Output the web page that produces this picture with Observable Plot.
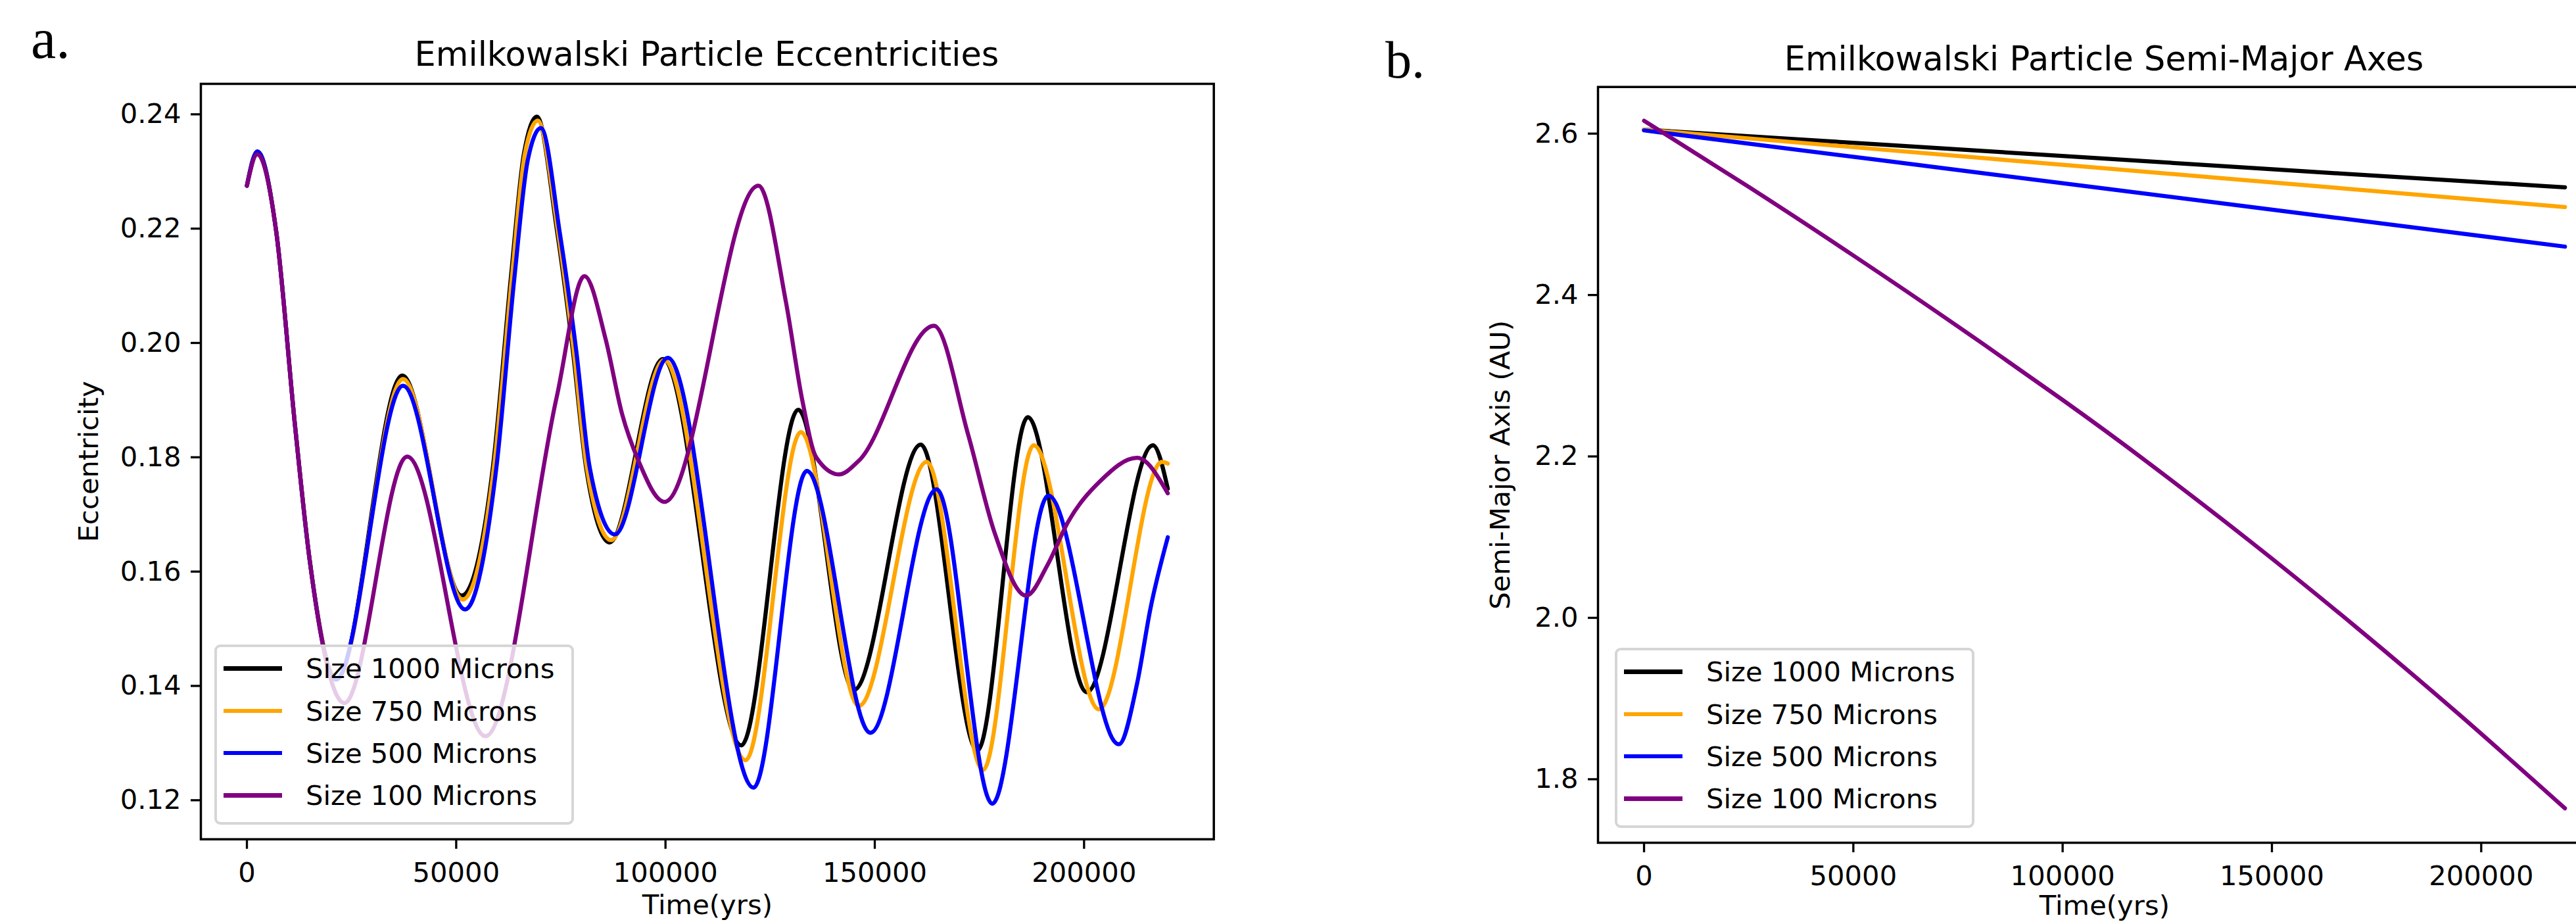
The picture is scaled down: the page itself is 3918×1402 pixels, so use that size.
<!DOCTYPE html>
<html>
<head>
<meta charset="utf-8">
<script src="https://cdn.jsdelivr.net/npm/d3@7"></script>
<script src="https://cdn.jsdelivr.net/npm/@observablehq/plot@0.6"></script>
<style>
  html, body { margin: 0; padding: 0; background: #fff; overflow: hidden; width: 3918px; height: 1402px; }
  #root { position: relative; width: 3918px; height: 1402px; overflow: hidden; font-family: "DejaVu Sans", sans-serif; color: #000; }
  .panel { position: absolute; top: 0; height: 1402px; }
  .head { position: relative; height: 110px; }
  .title { position: absolute; font-size: 51px; line-height: 51px; white-space: nowrap; transform: translateX(-50%); }
  .tag { position: absolute; font-family: "Liberation Serif", "Times New Roman", serif; white-space: nowrap; }
  .panel svg { display: block; }
  .legend { position: absolute; box-sizing: border-box; width: 547px; height: 274px; background: rgba(255,255,255,0.8); border: 4px solid #d6d6d6; border-radius: 9px; z-index: 2; }
  .sw { position: absolute; left: 10px; width: 89px; height: 6.25px; }
  .lt { position: absolute; left: 135px; font-size: 41.7px; line-height: 41.7px; white-space: nowrap; }
</style>
</head>
<body>
<div id="root"></div>
<script>
// ---------- shared ----------
const xTicks = [0, 50000, 100000, 150000, 200000];
const seriesNames = ["Size 1000 Microns", "Size 750 Microns", "Size 500 Microns", "Size 100 Microns"];
const seriesColors = ["black", "orange", "blue", "purple"];

// ---------- panel a: eccentricity ----------
const eccTicks = [0.12, 0.14, 0.16, 0.18, 0.20, 0.22, 0.24];

const eccT1000 = [0, 2500, 7000, 11500, 15000, 21500, 37130, 51340, 58760, 63060, 66180, 69310, 73990, 77900, 81030, 86650, 99400, 118100, 131710, 145000, 160990, 174510, 186540, 200630, 216460, 220000];
const ecc1000  = [0.2275, 0.2335, 0.2195, 0.1855, 0.1620, 0.1413, 0.1943, 0.1558, 0.1782, 0.2114, 0.2331, 0.2396, 0.2201, 0.1985, 0.1782, 0.1651, 0.1972, 0.1296, 0.1883, 0.1393, 0.1822, 0.1287, 0.1870, 0.1389, 0.1821, 0.1745];

const eccT750 = [0, 2500, 7000, 11500, 15000, 21500, 37300, 51600, 59000, 63300, 66400, 69500, 74200, 78100, 81200, 87000, 99700, 119130, 132340, 146190, 162420, 175860, 187970, 203550, 218600, 220000];
const ecc750  = [0.2275, 0.2335, 0.2195, 0.1855, 0.1620, 0.1412, 0.1937, 0.1551, 0.1782, 0.2114, 0.2331, 0.2389, 0.2201, 0.1985, 0.1782, 0.1655, 0.1970, 0.1270, 0.1844, 0.1365, 0.1792, 0.1253, 0.1821, 0.1359, 0.1792, 0.1789];

const eccT500 = [0, 2500, 7000, 11500, 15000, 21300, 37300, 52120, 59600, 63900, 67100, 70250, 74800, 78700, 81900, 87900, 100560, 121030, 133770, 148960, 164790, 178080, 191460, 208300, 212660, 215820, 220000];
const ecc500  = [0.2275, 0.2335, 0.2195, 0.1855, 0.1620, 0.1411, 0.1925, 0.1534, 0.1782, 0.2114, 0.2320, 0.2376, 0.2190, 0.1985, 0.1782, 0.1665, 0.1974, 0.1222, 0.1776, 0.1318, 0.1744, 0.1194, 0.1733, 0.1298, 0.1404, 0.1534, 0.1660];

const eccT100 = [0, 2500, 7000, 11500, 15000, 23300, 38290, 57000, 74000, 80640, 85720, 89620, 93530, 99780, 122210, 128790, 132730, 136000, 141440, 146190, 164150, 172290, 178620, 186150, 191300, 196040, 203950, 212660, 220000];
const ecc100  = [0.2275, 0.2330, 0.2195, 0.1855, 0.1620, 0.1370, 0.1801, 0.1312, 0.1905, 0.2117, 0.2006, 0.1876, 0.1794, 0.1722, 0.2275, 0.2071, 0.1898, 0.1800, 0.1770, 0.1794, 0.2030, 0.1840, 0.1668, 0.1558, 0.1612, 0.1685, 0.1759, 0.1799, 0.1737];

// ---------- panel b: semi-major axis ----------
const smaTicks = [1.8, 2.0, 2.2, 2.4, 2.6];
const smaT = [0, 55000, 110000, 165000, 220000];
const sma1000 = [2.605, 2.587, 2.569, 2.551, 2.5335];
const sma750  = [2.605, 2.581, 2.557, 2.533, 2.509];
const sma500  = [2.604, 2.568, 2.532, 2.496, 2.460];
const smaT100 = [0, 25000, 50000, 75000, 100000, 120000, 145000, 170000, 195000, 220000];
const sma100  = [2.616, 2.534, 2.449, 2.361, 2.270, 2.194, 2.094, 1.989, 1.879, 1.764];

const rows = (T, V) => d3.zip(T, V).map(([t, v]) => ({t, v}));

function makePlot(cfg) {
  return Plot.plot({
    width: cfg.width,
    height: cfg.height,
    marginLeft: cfg.marginLeft,
    marginRight: cfg.marginRight,
    marginTop: cfg.marginTop,
    marginBottom: cfg.marginBottom,
    style: {fontFamily: "DejaVu Sans", fontSize: "41.7px", background: "transparent", overflow: "visible", color: "black"},
    x: {domain: [-11000, 231000]},
    y: {domain: cfg.yDomain},
    marks: [
      ...cfg.series.map((s, i) => Plot.line(s, {x: "t", y: "v", stroke: seriesColors[i], strokeWidth: 6.25, curve: cfg.curve})),
      Plot.frame({stroke: "black", strokeWidth: 3.5}),
      Plot.axisX({ticks: xTicks, tickFormat: d3.format("d"), tickSize: 15, tickPadding: 20, strokeWidth: 3.3,
        label: "Time(yrs)", labelAnchor: "center", labelOffset: cfg.xLabelOffset, labelArrow: "none", fontSize: 41.7}),
      Plot.axisY({ticks: cfg.yTicks, tickFormat: d3.format(cfg.yFormat), tickSize: 15, tickPadding: 15, strokeWidth: 3.3,
        label: cfg.yLabel, labelAnchor: "center", labelOffset: cfg.yLabelOffset, labelArrow: "none", fontSize: 41.7})
    ]
  });
}

function makeLegend(left, top) {
  const lg = document.createElement("div");
  lg.className = "legend";
  lg.style.left = left + "px";
  lg.style.top = top + "px";
  seriesNames.forEach((name, i) => {
    const c = 32.5 + i * 64.3;
    const sw = document.createElement("div");
    sw.className = "sw";
    sw.style.top = (c - 3.1) + "px";
    sw.style.background = seriesColors[i];
    const tx = document.createElement("div");
    tx.className = "lt";
    tx.style.top = (c + 15 - 35.3) + "px";
    tx.textContent = name;
    lg.appendChild(sw);
    lg.appendChild(tx);
  });
  return lg;
}

function makePanel({left, width, titleText, titleCenter, titleTop, tagText, tagLeft, tagTop, tagSize, plot, legendLeft, legendTop}) {
  const p = document.createElement("div");
  p.className = "panel";
  p.style.left = left + "px";
  p.style.width = width + "px";
  const head = document.createElement("div");
  head.className = "head";
  const title = document.createElement("div");
  title.className = "title";
  title.style.left = titleCenter + "px";
  title.style.top = titleTop + "px";
  title.textContent = titleText;
  head.appendChild(title);
  p.appendChild(head);
  p.appendChild(plot);
  const tag = document.createElement("div");
  tag.className = "tag";
  tag.style.left = tagLeft + "px";
  tag.style.top = tagTop + "px";
  tag.style.fontSize = tagSize + "px";
  tag.style.lineHeight = tagSize + "px";
  tag.textContent = tagText;
  p.appendChild(tag);
  p.appendChild(makeLegend(legendLeft, legendTop));
  return p;
}

const root = document.getElementById("root");

const plotA = makePlot({
  width: 1960, height: 1292,
  marginLeft: 305, marginRight: 114.3, marginTop: 17, marginBottom: 126.3,
  yDomain: [0.11317, 0.24533], yTicks: eccTicks, yFormat: ".2f",
  yLabel: "Eccentricity", yLabelOffset: 186, xLabelOffset: 114,
  curve: "monotone-x",
  series: [rows(eccT1000, ecc1000), rows(eccT750, ecc750), rows(eccT500, ecc500), rows(eccT100, ecc100)]
});

const plotB = makePlot({
  width: 2125, height: 1292,
  marginLeft: 470, marginRight: 114.3, marginTop: 21.75, marginBottom: 121,
  yDomain: [1.7213, 2.6578], yTicks: smaTicks, yFormat: ".1f",
  yLabel: "Semi-Major Axis (AU)", yLabelOffset: 164, xLabelOffset: 109,
  curve: "natural",
  series: [rows(smaT, sma1000), rows(smaT, sma750), rows(smaT, sma500), rows(smaT100, sma100)]
});

root.appendChild(makePanel({
  left: 0, width: 1960,
  titleText: "Emilkowalski Particle Eccentricities", titleCenter: 1075, titleTop: 57,
  tagText: "a.", tagLeft: 47, tagTop: 16, tagSize: 86,
  plot: plotA, legendLeft: 326, legendTop: 980
}));

root.appendChild(makePanel({
  left: 1960, width: 2125,
  titleText: "Emilkowalski Particle Semi-Major Axes", titleCenter: 1240, titleTop: 64,
  tagText: "b.", tagLeft: 147, tagTop: 51, tagSize: 80,
  plot: plotB, legendLeft: 496, legendTop: 985
}));
</script>
</body>
</html>
